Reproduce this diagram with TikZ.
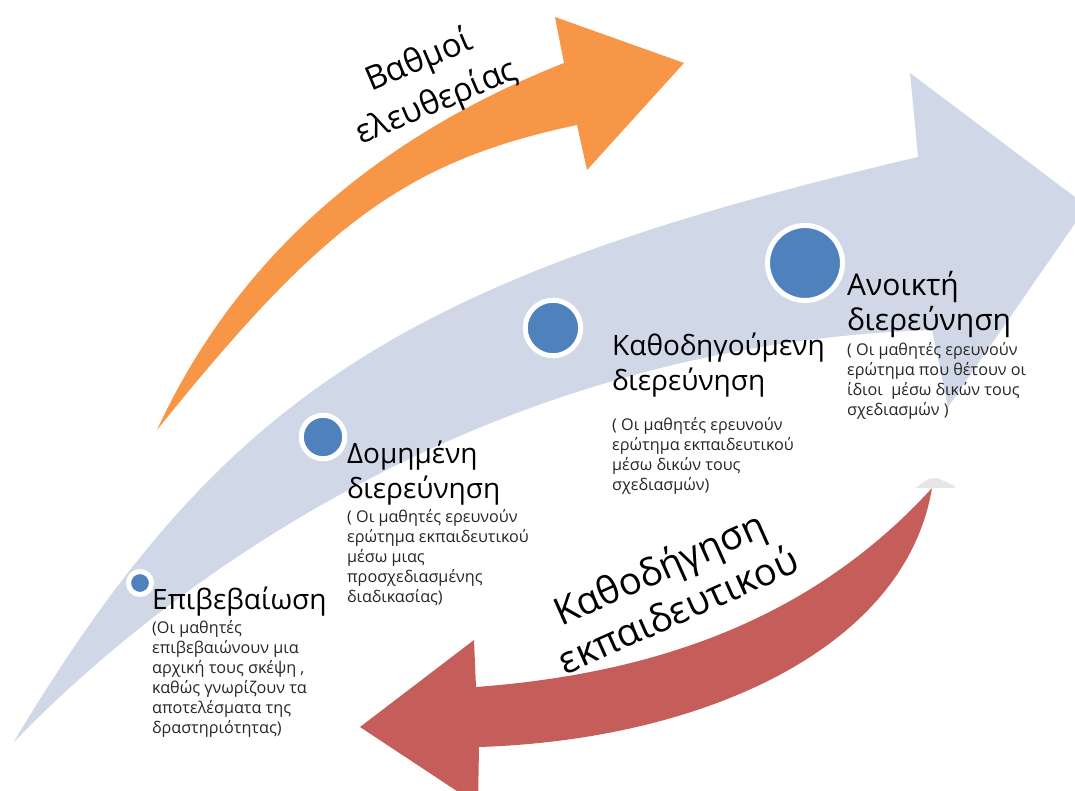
\documentclass[tikz,border=0pt]{standalone}
\usepackage{fontspec}
\setmainfont{Open Sans}
\definecolor{BandBlue}{RGB}{208,216,232}
\definecolor{DotBlue}{RGB}{79,129,189}
\definecolor{FreeOrange}{RGB}{247,150,70}
\definecolor{GuideRed}{RGB}{197,94,90}
\definecolor{TipGray}{RGB}{230,230,230}
\usetikzlibrary{positioning}

\begin{document}
\begin{tikzpicture}[x=1pt, y=-1pt,
		dot/.style={circle, fill=DotBlue, draw=white, line width=5pt, inner sep=0pt},
		lbl/.style={anchor=north west, inner sep=0pt, align=left, font=\fontsize{28}{35}\selectfont},
		note/.style={anchor=north west, inner sep=0pt, align=left, text=black!85, font=\fontsize{16.2}{20}\selectfont},
		arrtxt/.style={inner sep=0pt, align=center, font=\fontsize{33}{45}\selectfont}]
	\useasboundingbox (0,0) rectangle (1075,791);
	\begin{scope}
		\clip (0,0) rectangle (1075,791);
		% big band arrow
		\fill[BandBlue] (13,743) .. controls (222,395) and (403,278) .. (918,157) -- (910,73) -- (1087,206)
			-- (948,407) -- (932,330) .. controls (480,345) and (160,590) .. (13,743) -- cycle;
		\fill[FreeOrange] (157,430) .. controls (234,263) and (370,140) .. (564,63) -- (555,17) -- (684,63)
			-- (587,170) -- (577,125) .. controls (407,161) and (323,223) .. (157,430) -- cycle;
		\fill[GuideRed] (932,488) .. controls (810,622) and (650,674) .. (476,687) -- (474,640) -- (360,727)
			-- (478,805) -- (479,747) .. controls (700,740) and (905,650) .. (932,488) -- cycle;
		\fill[TipGray] (915,488) -- (928,479) -- (937,478) -- (955,486) -- (955,488) -- cycle;
	\end{scope}
	\foreach \i/\p/\s in {1/{140,583}/23, 2/{323,437}/43.5, 3/{553,328}/55.5, 4/{805,263}/75}{
		\node[dot, minimum size=\s pt] (d\i) at (\p) {};
	}
	\node[lbl] (t1) at (152,584.5) {\strut Επιβεβαίωση};
	\node[note] (n1) at (152,619) {\strut(Οι μαθητές\\επιβεβαιώνουν μια\\αρχική τους σκέψη ,\\καθώς γνωρίζουν τα\\αποτελέσματα της\\δραστηριότητας)};
	\node[lbl] (t2) at (347,438.5) {\strut Δομημένη\\διερεύνηση};
	\node[note] (n2) at (347,508) {\strut( Οι μαθητές ερευνούν\\ερώτημα εκπαιδευτικού\\μέσω μιας\\προσχεδιασμένης\\διαδικασίας)};
	\node[lbl] (t3) at (612,330.5) {\strut Καθοδηγούμενη\\διερεύνηση};
	\node[note] (n3) at (612,416) {\strut( Οι μαθητές ερευνούν\\ερώτημα εκπαιδευτικού\\μέσω δικών τους\\σχεδιασμών)};
	\node[lbl, font=\fontsize{30}{34}\selectfont] (t4) at (847,271.2) {\strut Ανοικτή\\διερεύνηση};
	\node[note] (n4) at (847,341) {\strut( Οι μαθητές ερευνούν\\ερώτημα που θέτουν οι\\ίδιοι \ μέσω δικών τους\\σχεδιασμών )};
	\node[arrtxt, rotate=23] (free) at (428,82) {Βαθμοί\\ελευθερίας};
	\node[arrtxt, rotate=24, font=\fontsize{38}{46}\selectfont] (guide) at (668,588) {Καθοδήγηση\\εκπαιδευτικού};
\end{tikzpicture}
\end{document}
